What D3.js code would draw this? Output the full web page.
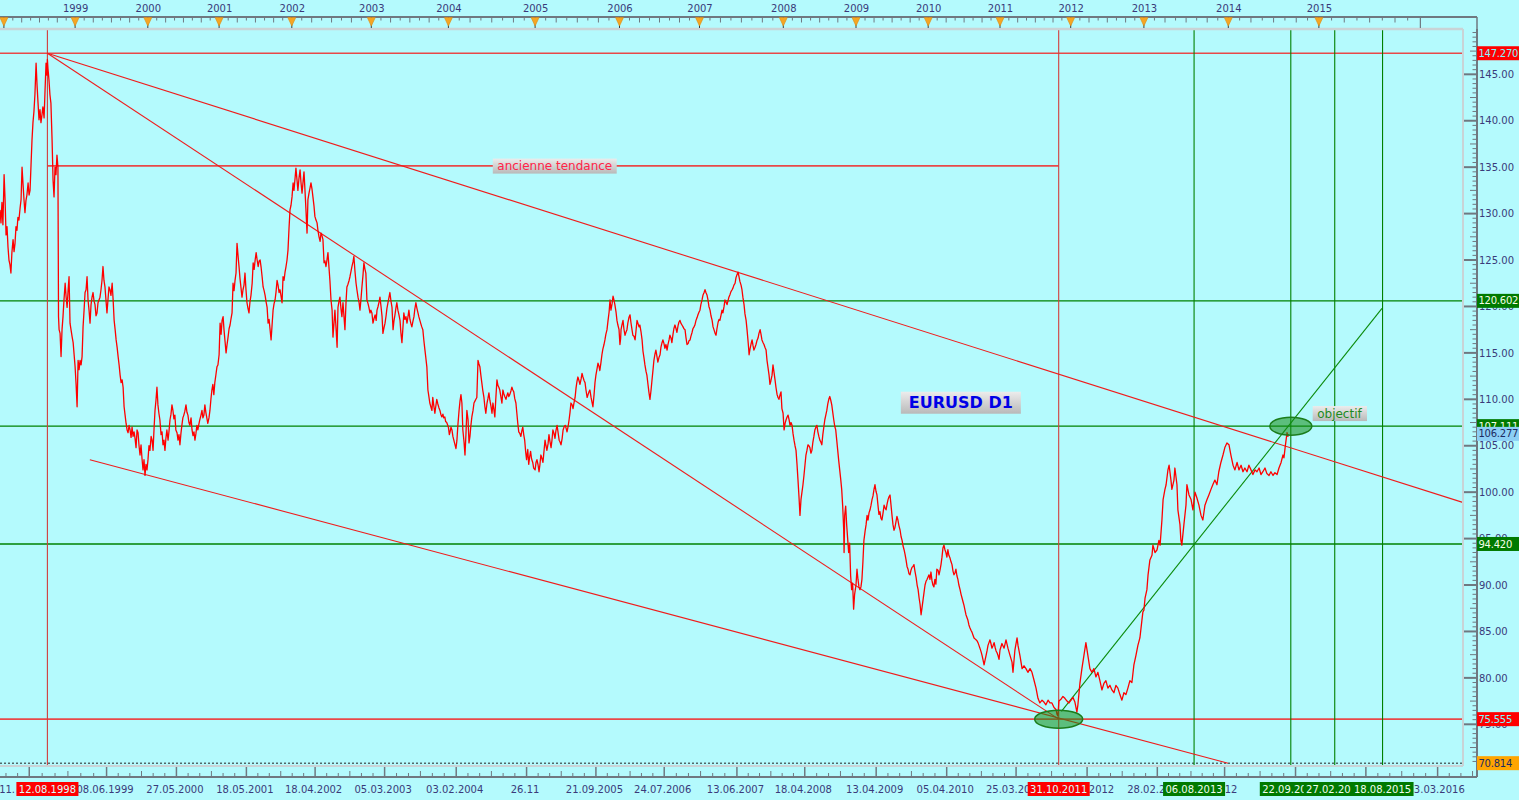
<!DOCTYPE html>
<html><head><meta charset="utf-8">
<script src="https://cdn.jsdelivr.net/npm/d3@7"></script>
<style>html,body{margin:0;padding:0;background:#b4fafd;overflow:hidden}svg{display:block}</style>
</head><body>
<svg id="c" width="1519" height="800"></svg>
<script>
// ---------------- DATA ----------------
// daily-close path, per year: [day of year, close]
const s1998=[[-20,130.4],[-15,129.0],[-10,131.2],[-5,128.8],[1,134.2],[6,131.5],[11,127.7],[16,128.6],[21,126.4],[26,125.0],[31,124.5],[36,123.6],[41,125.8],[47,127.2],[52,125.9],[57,126.8],[62,128.6],[67,128.2],[72,129.6],[77,129.3],[83,130.6],[88,131.5],[93,135.0],[98,133.2],[103,131.5],[108,130.1],[113,131.4],[118,132.0],[124,133.3],[129,132.0],[134,132.5],[139,135.2],[144,137.9],[149,139.8],[154,141.0],[159,142.8],[165,146.2],[170,143.8],[175,141.9],[180,140.1],[185,141.2],[190,139.8],[195,140.6],[200,141.5],[206,140.3],[211,143.3],[216,146.2],[221,144.9],[223,146.6],[226,145.6],[231,144.4],[236,142.8],[241,141.9],[247,137.9],[252,133.6],[257,131.8],[262,135.0],[267,134.2],[272,136.3],[277,135.0],[280,118.9],[283,117.5],[288,117.1],[293,114.6],[298,117.5],[303,118.9],[308,120.7],[314,122.5],[319,121.0],[324,119.9],[329,121.7],[334,123.2],[339,118.2],[344,117.5],[350,116.7],[355,116.1],[360,114.8]];
const s1999=[[0,113.5],[5,111.6],[10,109.2],[15,114.2],[20,113.2],[25,114.2],[30,113.7],[35,114.6],[40,117.8],[45,119.6],[50,121.5],[55,121.8],[60,123.2],[65,120.7],[70,119.6],[75,118.2],[80,120.2],[85,121.0],[90,121.5],[95,120.6],[100,120.2],[105,119.0],[110,119.3],[115,120.4],[120,120.7],[125,121.0],[130,121.8],[135,122.8],[140,124.3],[145,122.8],[150,122.1],[155,120.7],[160,119.3],[165,120.7],[170,122.1],[175,121.8],[180,121.2],[186,122.5],[191,120.7],[196,118.5],[201,117.5],[206,116.4],[211,115.6],[216,114.6],[221,113.7],[226,112.6],[231,111.8],[236,112.1],[241,111.3],[246,109.2],[251,108.3],[256,107.4],[261,106.7],[266,106.4],[271,107.2],[276,106.7],[281,105.9],[286,107.0],[291,106.0],[296,106.5],[301,105.8],[306,104.8],[311,106.7],[316,106.4],[321,105.0],[326,104.0],[331,105.1],[336,103.6],[341,102.4],[346,103.5],[351,101.8],[356,103.0],[361,102.4]];
const s2000=[[1,103.5],[6,105.0],[11,104.5],[17,106.0],[22,105.6],[27,104.5],[32,106.8],[37,108.8],[42,109.9],[47,111.3],[52,109.4],[57,108.5],[62,107.8],[68,106.2],[73,106.5],[78,105.1],[83,105.6],[88,104.5],[93,105.8],[98,106.7],[104,105.6],[109,106.6],[114,107.8],[119,108.4],[124,109.4],[129,108.8],[134,107.9],[139,108.3],[144,106.7],[150,106.4],[155,105.6],[160,106.2],[165,105.1],[170,106.3],[175,107.2],[180,108.0],[185,108.3],[190,108.7],[196,109.4],[201,108.6],[206,108.3],[211,107.5],[216,107.2],[222,108.0],[227,106.7],[232,106.1],[237,106.5],[242,105.6],[247,106.3],[252,107.2],[257,106.7],[262,107.3],[267,107.8],[273,108.3],[278,108.8],[283,108.0],[288,108.3],[293,109.4],[298,108.6],[303,108.0],[308,107.4],[314,108.0],[319,108.8],[324,110.0],[329,111.0],[334,111.6],[339,110.5],[344,111.8],[350,112.7],[355,113.5],[360,113.7]];
const s2001=[[0,114.8],[5,118.2],[10,117.0],[15,118.5],[20,118.9],[25,117.4],[30,116.2],[35,115.0],[40,115.9],[45,116.7],[50,117.6],[55,118.0],[60,118.7],[65,119.3],[70,122.5],[75,121.7],[80,122.8],[85,123.6],[90,126.8],[95,125.5],[100,124.3],[105,123.0],[110,122.0],[115,121.0],[120,121.8],[125,122.3],[130,123.6],[135,121.8],[140,120.4],[145,119.8],[150,119.3],[155,120.5],[160,121.2],[166,122.5],[171,124.7],[176,124.0],[181,125.0],[186,125.8],[191,125.0],[196,124.3],[201,124.9],[206,125.0],[211,124.2],[216,123.2],[221,122.1],[226,121.7],[231,121.2],[236,120.5],[241,119.9],[246,118.2],[251,118.6],[256,117.5],[261,116.4],[266,118.0],[271,119.6],[276,120.3],[281,120.7],[286,121.6],[291,122.8],[296,122.3],[301,121.5],[306,121.8],[311,121.1],[316,120.4],[321,123.2],[326,122.8],[331,123.7],[336,124.3],[341,125.0],[346,126.1],[351,128.4],[356,130.4],[361,130.9]];
const s2002=[[1,131.8],[6,133.3],[10,132.5],[15,133.8],[19,134.9],[24,133.6],[28,132.5],[33,133.8],[38,134.7],[42,133.4],[47,132.2],[52,133.5],[56,134.5],[61,132.3],[65,130.4],[70,127.9],[74,131.5],[79,132.2],[84,132.8],[88,133.3],[93,132.6],[97,131.8],[102,130.8],[106,129.7],[111,129.3],[116,129.0],[120,128.2],[125,127.5],[130,127.0],[134,127.9],[139,127.6],[143,127.2],[148,124.7],[152,124.9],[157,124.3],[162,125.1],[166,125.8],[171,124.1],[175,122.8],[180,120.7],[185,119.6],[189,116.7],[194,118.3],[198,119.6],[203,117.7],[208,115.6],[212,119.9],[217,120.6],[221,121.0],[226,119.7],[230,118.9],[235,120.4],[240,118.8],[244,117.5],[249,120.5],[253,122.1],[258,122.4],[263,122.8],[267,123.2],[272,123.8],[276,124.3],[281,124.8],[285,125.4],[290,123.8],[295,122.5],[299,121.8],[304,121.0],[309,120.4],[313,119.6],[318,120.9],[322,122.1],[327,123.4],[331,124.7],[336,124.0],[340,123.6],[345,120.7],[350,120.3],[354,119.9],[359,119.3],[363,119.6]];
const s2003=[[3,119.3],[8,118.2],[13,118.7],[18,119.1],[23,118.5],[27,119.6],[32,120.0],[37,120.5],[41,121.0],[46,120.0],[51,118.9],[55,117.1],[60,117.7],[65,118.2],[70,119.0],[74,119.8],[79,120.4],[84,121.0],[88,121.5],[93,120.6],[98,119.9],[103,117.5],[107,118.4],[112,119.1],[117,119.9],[121,120.4],[126,119.6],[131,119.1],[136,118.5],[140,117.2],[145,116.1],[150,117.8],[154,119.3],[159,118.6],[164,118.9],[169,118.2],[173,118.8],[178,119.6],[183,118.6],[187,118.2],[192,117.8],[197,118.4],[202,118.9],[206,119.7],[211,120.4],[216,119.8],[221,119.3],[225,118.9],[230,118.5],[235,118.1],[239,117.8],[244,117.5],[249,116.3],[254,115.3],[258,114.5],[263,113.5],[268,111.0],[272,110.4],[277,109.6],[282,109.2],[287,108.8],[291,110.2],[296,109.3],[301,108.5],[305,109.2],[310,110.0],[315,109.5],[320,109.1],[325,108.8],[329,108.4],[334,108.1],[339,108.4],[343,108.0],[348,108.1],[352,107.6],[357,107.5],[362,107.2]];
const s2004=[[0,107.0],[4,106.2],[7,106.5],[11,107.0],[15,106.7],[19,106.0],[24,105.5],[28,105.1],[32,104.7],[36,105.6],[40,107.2],[45,108.8],[49,109.8],[53,110.5],[57,109.6],[61,106.7],[66,105.4],[70,104.0],[74,106.2],[78,108.8],[83,107.8],[87,105.3],[91,106.0],[95,107.2],[99,108.1],[104,108.8],[108,109.6],[112,109.8],[116,110.0],[120,110.2],[125,114.2],[129,113.8],[133,113.5],[137,112.6],[141,111.8],[145,111.0],[150,110.2],[154,109.2],[158,108.5],[163,109.6],[167,110.1],[171,110.7],[175,109.9],[180,109.2],[184,108.5],[188,109.6],[192,108.9],[196,108.1],[200,110.0],[205,112.1],[209,111.5],[213,111.3],[217,111.0],[222,110.2],[226,109.6],[230,111.0],[234,110.6],[238,110.3],[243,110.0],[247,110.4],[251,110.7],[255,110.3],[259,110.5],[264,110.9],[268,111.3],[272,111.0],[276,110.8],[280,110.1],[285,109.6],[289,108.5],[293,107.4],[297,106.5],[302,106.3],[306,106.0],[310,106.6],[314,107.0],[318,106.2],[322,105.6],[326,104.4],[330,103.5],[335,104.6],[339,103.0],[343,103.8],[347,104.4],[351,103.6],[356,103.2],[360,102.6]];
const s2005=[[0,102.4],[4,103.2],[8,103.5],[13,102.9],[17,102.2],[21,103.0],[25,104.0],[30,103.6],[34,103.2],[38,104.3],[43,105.6],[47,105.0],[51,104.5],[56,105.2],[60,106.2],[64,105.5],[69,104.8],[73,105.6],[77,106.7],[82,106.3],[86,105.8],[90,106.6],[95,107.2],[99,106.5],[104,105.6],[108,105.4],[112,105.1],[117,105.8],[121,106.7],[125,107.0],[130,107.2],[134,106.9],[138,106.5],[143,107.1],[147,107.8],[151,108.6],[155,109.6],[160,109.4],[164,109.0],[168,109.6],[173,110.2],[177,111.2],[181,111.9],[185,112.4],[190,112.0],[194,111.6],[199,112.2],[203,112.8],[207,112.4],[212,112.0],[216,111.8],[220,111.0],[225,110.2],[229,110.5],[233,110.8],[237,111.0],[242,110.2],[246,109.7],[250,109.2],[255,110.5],[259,111.8],[263,112.6],[268,113.3],[272,113.9],[276,113.6],[280,113.1],[285,114.0],[289,114.8],[293,115.4],[298,115.9],[302,116.4],[306,117.0],[311,117.5],[315,118.4],[320,119.4],[324,120.7],[328,119.6],[333,120.3],[337,121.1],[341,120.7],[345,120.2],[350,119.4],[354,118.5],[358,118.0],[363,117.5]];
const s2006=[[2,115.9],[5,116.5],[7,117.5],[11,118.0],[16,118.5],[20,117.6],[25,116.9],[29,117.2],[34,117.5],[38,118.2],[43,118.8],[48,119.1],[52,118.3],[57,117.5],[61,116.9],[66,116.8],[71,116.4],[75,117.3],[80,118.5],[84,118.2],[89,117.8],[93,118.0],[98,117.3],[103,116.4],[107,115.2],[112,114.4],[116,113.7],[121,113.0],[125,112.6],[130,111.6],[134,110.8],[139,110.0],[144,111.0],[148,112.0],[153,113.2],[157,114.2],[162,114.9],[166,115.3],[171,114.6],[175,114.0],[180,114.5],[185,114.8],[189,115.6],[194,116.1],[198,116.4],[203,116.0],[207,115.5],[212,115.9],[217,115.3],[221,115.9],[226,116.4],[230,116.9],[235,116.6],[239,116.1],[244,117.0],[248,117.6],[253,118.0],[258,117.6],[262,117.2],[267,117.9],[271,118.3],[276,118.5],[280,118.2],[285,118.0],[290,117.8],[294,117.6],[299,117.5],[303,116.7],[308,115.9],[313,116.0],[317,116.3],[322,116.4],[326,116.8],[331,117.2],[335,117.6],[340,117.8],[344,118.0],[349,118.5],[354,118.8],[358,119.1],[363,119.4]];
const s2007=[[2,119.6],[6,120.2],[11,120.7],[15,121.2],[20,121.5],[24,121.8],[28,121.5],[33,121.2],[37,120.7],[41,120.0],[46,119.6],[50,119.0],[55,118.5],[59,117.8],[63,117.5],[68,117.1],[72,116.9],[76,117.6],[81,118.3],[85,118.6],[89,118.5],[94,119.1],[98,119.6],[102,119.3],[107,120.0],[111,120.7],[115,120.5],[120,120.2],[124,120.6],[128,121.0],[133,121.3],[137,121.6],[142,121.8],[146,122.0],[150,122.3],[155,122.5],[159,123.1],[163,123.4],[168,123.7],[172,123.2],[176,122.7],[181,122.3],[185,121.8],[189,121.0],[194,120.2],[198,119.2],[203,118.5],[207,117.5],[211,116.4],[214,115.5],[216,114.8],[220,115.4],[224,115.9],[229,116.4],[233,115.8],[237,115.3],[242,115.6],[246,115.9],[250,116.3],[255,116.6],[259,117.1],[264,117.5],[268,117.0],[272,116.4],[277,116.1],[281,115.9],[285,115.6],[290,115.3],[294,114.2],[298,113.5],[303,112.6],[307,111.6],[311,112.0],[316,112.6],[320,113.7],[324,113.0],[329,112.1],[333,111.3],[338,110.5],[342,110.2],[346,110.0],[351,110.5],[355,110.8],[359,109.0],[364,108.5]];
const s2008=[[4,106.7],[9,107.4],[14,107.8],[19,108.1],[24,108.3],[29,107.8],[34,107.2],[39,107.5],[44,107.2],[49,106.3],[54,105.6],[59,105.0],[64,104.5],[69,103.0],[74,101.3],[79,99.5],[84,97.5],[89,99.2],[94,100.0],[99,100.8],[104,101.8],[109,102.9],[114,104.0],[119,104.5],[124,105.1],[129,105.0],[134,104.8],[139,104.2],[144,104.5],[149,105.4],[154,106.0],[159,106.7],[164,107.0],[169,107.2],[174,106.5],[179,106.0],[184,105.6],[189,105.4],[194,105.1],[199,106.2],[204,107.0],[209,107.8],[214,108.3],[219,108.8],[224,109.5],[229,110.0],[234,110.3],[239,109.9],[244,109.4],[249,108.6],[254,107.8],[259,107.1],[264,106.7],[269,105.6],[274,104.5],[279,103.4],[284,102.4],[289,101.4],[294,100.3],[299,98.5],[304,96.0],[306,93.5],[309,97.5],[314,98.5],[319,96.5],[324,95.0],[329,93.5],[334,94.5],[339,91.0],[344,89.5],[349,90.2],[354,87.4],[359,89.0]];
const s2009=[[0,90.0],[5,91.7],[10,90.6],[15,89.8],[20,89.5],[25,89.8],[30,90.6],[35,92.5],[40,94.8],[46,95.8],[51,96.5],[56,97.5],[61,97.0],[66,97.8],[71,98.1],[76,98.6],[81,99.2],[86,99.6],[91,100.3],[96,100.8],[101,100.1],[106,99.7],[111,98.6],[116,97.6],[121,97.9],[126,97.2],[131,97.0],[137,97.8],[142,98.6],[147,98.3],[152,98.1],[157,98.7],[162,99.2],[167,99.5],[172,99.7],[177,98.6],[182,97.5],[187,96.5],[192,95.9],[197,96.2],[202,96.8],[207,97.4],[212,97.0],[217,96.4],[223,95.9],[228,95.2],[233,94.8],[238,94.2],[243,93.8],[248,93.3],[253,92.7],[258,92.0],[263,91.7],[268,91.2],[273,91.1],[278,91.6],[283,91.9],[288,92.0],[293,92.2],[298,91.5],[304,90.8],[309,90.0],[314,89.5],[319,88.6],[324,87.9],[329,86.8],[334,87.6],[339,88.4],[344,89.2],[349,90.0],[354,90.4],[359,90.6]];
const s2010=[[4,91.1],[9,90.6],[14,91.4],[19,90.5],[24,90.0],[29,89.8],[34,90.6],[39,90.1],[44,91.7],[50,91.6],[55,91.1],[60,91.6],[65,92.2],[70,93.0],[75,94.0],[80,94.3],[85,93.8],[90,93.5],[95,93.0],[100,93.8],[105,93.2],[111,92.9],[116,92.5],[121,92.2],[126,91.5],[131,91.1],[136,91.3],[141,91.7],[146,91.0],[151,90.6],[156,90.0],[162,89.5],[167,89.0],[172,88.6],[177,88.2],[182,87.8],[187,87.3],[192,86.8],[197,86.5],[202,86.2],[207,85.7],[212,85.4],[218,85.1],[223,84.9],[228,84.6],[233,84.3],[238,84.2],[243,84.1],[248,84.0],[253,83.8],[258,83.5],[263,83.2],[269,82.8],[274,82.4],[279,81.9],[284,81.4],[289,81.9],[294,82.4],[299,82.9],[304,83.5],[309,83.8],[314,84.1],[319,83.7],[324,83.2],[330,83.5],[335,83.8],[340,83.3],[345,82.9],[350,82.7],[355,82.4],[360,82.0]];
const s2011=[[0,83.0],[10,83.7],[21,83.2],[31,84.1],[41,83.2],[52,82.4],[62,81.7],[67,80.6],[77,83.0],[88,84.3],[93,83.5],[103,82.4],[114,81.0],[124,81.3],[134,81.0],[144,80.6],[155,81.0],[165,80.6],[175,79.8],[186,78.9],[196,77.8],[206,77.3],[217,77.6],[227,77.4],[237,77.1],[248,77.6],[258,77.3],[268,77.3],[279,76.8],[289,76.6],[294,76.1],[299,75.9],[304,77.5],[315,77.7],[325,78.0],[335,77.8],[346,77.5],[356,77.3]];
const s2012=[[2,77.6],[11,77.9],[21,77.4],[31,76.3],[36,77.1],[46,79.4],[56,81.0],[66,82.4],[76,83.8],[86,82.4],[96,81.0],[106,80.6],[116,81.0],[126,80.1],[136,80.6],[146,79.7],[156,78.7],[166,79.4],[176,79.7],[186,78.9],[196,79.2],[206,78.7],[216,78.4],[226,79.2],[236,78.9],[246,78.2],[256,77.6],[266,78.4],[276,78.2],[286,78.9],[296,79.7],[306,79.5],[316,81.4],[326,82.4],[336,83.5],[346,84.3],[356,86.2],[361,87.1]];
const s2013=[[0,87.3],[5,88.6],[13,89.5],[18,91.1],[26,92.7],[35,93.2],[39,94.3],[48,93.5],[57,93.8],[65,94.8],[70,94.3],[78,97.0],[83,99.2],[91,100.3],[96,100.8],[104,102.4],[109,102.9],[117,101.3],[121,100.3],[130,101.3],[134,102.6],[143,100.8],[147,98.1],[156,96.5],[160,94.8],[164,94.3],[173,96.5],[182,98.6],[186,100.8],[195,99.7],[204,99.2],[212,98.1],[221,100.0],[229,99.4],[238,98.6],[247,97.5],[255,97.0],[264,98.6],[273,99.2],[281,99.7],[290,100.3],[298,100.8],[307,101.3],[316,100.8],[324,102.2],[333,103.2],[342,104.0],[350,104.8],[359,105.3]];
const s2014=[[3,105.1],[11,104.0],[20,102.9],[28,102.4],[37,103.2],[45,102.4],[54,102.9],[62,102.2],[70,102.6],[79,102.2],[87,102.9],[96,102.4],[104,101.9],[113,102.4],[121,102.2],[130,102.6],[138,101.9],[146,102.2],[155,102.6],[163,102.0],[172,101.8],[180,102.2],[189,101.8],[197,102.1],[206,101.9],[214,102.6],[223,103.2],[231,104.0],[235,103.7],[240,104.8],[244,105.6],[248,106.4],[252,106.0],[253,106.28]];

const trendLines=[
  {from:["1998-08-12",147.27],to:["2016-06-01",98.9],color:"red"},
  {from:["1998-08-12",147.27],to:["2011-10-31",75.555],color:"red"},
  {from:["1999-03-16",103.5],to:["2013-12-31",70.814],color:"red"},
  {from:["2011-11-14",76.4],to:["2015-08-16",119.8],color:"green"}
];
const hLevels=[[147.27,"red"],[120.602,"green"],[107.111,"green"],[94.42,"green"],[75.555,"red"]];
const oldTrend={from:"1998-08-12",to:"2011-10-31",value:135.15};
const vLines=[["1998-08-12","red"],["2011-10-31","red"],["2013-08-06","green"],["2014-09-22","green"],["2015-02-27","green"],["2015-08-18","green"]];
const dashedLevel=70.814;
const priceTags=[[147.270,"red"],[120.602,"green"],[107.111,"green"],[106.277,"blue"],[94.420,"green"],[75.555,"red"],[70.814,"orange"]];
const ellipses=[["2011-10-31",75.555],["2014-09-22",107.111]];
const notes=[
  {date:"2005-03-27",value:135.15,text:"ancienne tendance",kind:"red"},
  {date:"2010-06-16",value:109.66,text:"EURUSD D1",kind:"title"},
  {date:"2015-03-16",value:108.5,text:"objectif",kind:"green"}
];
const years=[1998,1999,2000,2001,2002,2003,2004,2005,2006,2007,2008,2009,2010,2011,2012,2013,2014,2015];
const bottomLabels=[["1998-05-11","11.05.1998"],["1999-06-08","08.06.1999"],["2000-05-27","27.05.2000"],["2001-05-18","18.05.2001"],["2002-04-18","18.04.2002"],["2003-03-05","05.03.2003"],["2004-02-03","03.02.2004"],["2004-11-26","26.11"],["2005-09-21","21.09.2005"],["2006-07-24","24.07.2006"],["2007-06-13","13.06.2007"],["2008-04-18","18.04.2008"],["2009-04-13","13.04.2009"],["2010-04-05","05.04.2010"],["2011-03-25","25.03.2011"],["2012-03-23","23.03.2012"],["2013-02-28","28.02.2013"],["2013-12-16","16.12"],["2014-10-09","09.10.2014"],["2015-06-19","19.06.2015"],["2016-03-03","03.03.2016"]];
const markedDates=[["1998-08-12","12.08.1998","red"],["2011-10-31","31.10.2011","red"],["2013-08-06","06.08.2013","green"],["2014-09-22","22.09.2014","green"],["2015-02-27","27.02.2015","green"],["2015-08-18","18.08.2015","green"]];

// ---------------- LAYOUT ----------------
const P={left:0,right:1463,top:29,bottom:766,axisX:1477,topAxisY:17,botAxisY:777};
// bar-based time axis: first bar of each year sits at these pixels
const xBreaks=[["1998-01-01",3.9],["1999-01-01",75.1],["2000-01-01",147.8],["2001-01-01",219.1],["2002-01-01",291.8],["2003-01-01",371.3],["2004-01-01",448.4],["2005-01-01",535.1],["2006-01-01",619.5],["2007-01-01",699.5],["2008-01-01",783.3],["2009-01-01",856],["2010-01-01",928.2],["2011-01-01",1000],["2012-01-01",1070.7],["2013-01-01",1143.9],["2014-01-01",1228.3],["2014-09-22",1290.8],["2016-06-30",1470.7]];
const C={bg:"#b4fafd",red:"#ff0000",redH:"#e84848",green:"#008000",axis:"#6f7880",text:"#3a3a7a",frame:"#c9d3d6"};
const FONT="'DejaVu Sans', Verdana, sans-serif";

const pd=d3.timeParse("%Y-%m-%d");
const x=d3.scaleTime().domain(xBreaks.map(d=>pd(d[0]))).range(xBreaks.map(d=>d[1]));
const y=d3.scaleLinear().domain([70.51,149.88]).range([P.bottom,P.top]);

const yearData={1998:s1998,1999:s1999,2000:s2000,2001:s2001,2002:s2002,2003:s2003,2004:s2004,2005:s2005,2006:s2006,2007:s2007,2008:s2008,2009:s2009,2010:s2010,2011:s2011,2012:s2012,2013:s2013,2014:s2014};
const series=[];
Object.keys(yearData).sort().forEach(yr=>{yearData[yr].forEach(([d,v])=>series.push({date:new Date(+yr,0,1+d),value:v}));});

const svg=d3.select("#c");
svg.append("rect").attr("width",1519).attr("height",800).attr("fill",C.bg);
const defs=svg.append("defs");
const g1=defs.append("linearGradient").attr("id","btn").attr("x1",0).attr("y1",0).attr("x2",0).attr("y2",1);
g1.append("stop").attr("offset","0%").attr("stop-color","#ececec");
g1.append("stop").attr("offset","100%").attr("stop-color","#b9b9b9");
defs.append("clipPath").attr("id","plot").append("rect").attr("x",P.left).attr("y",P.top).attr("width",P.right-P.left).attr("height",P.bottom-P.top);

const plot=svg.append("g").attr("clip-path","url(#plot)");

plot.selectAll("line.h").data(hLevels).join("line")
  .attr("x1",P.left).attr("x2",P.right).attr("y1",d=>y(d[0])).attr("y2",d=>y(d[0]))
  .attr("stroke",d=>d[1]==="red"?C.redH:C.green).attr("stroke-width",d=>d[1]==="red"?1.6:1.3);
plot.append("line").attr("x1",P.left).attr("x2",P.right).attr("y1",y(dashedLevel)).attr("y2",y(dashedLevel))
  .attr("stroke","#222").attr("stroke-width",1).attr("stroke-dasharray","2,2");
plot.append("line").attr("x1",x(pd(oldTrend.from))).attr("x2",x(pd(oldTrend.to)))
  .attr("y1",y(oldTrend.value)).attr("y2",y(oldTrend.value)).attr("stroke",C.redH).attr("stroke-width",1.8);
plot.selectAll("line.v").data(vLines).join("line")
  .attr("x1",d=>x(pd(d[0]))).attr("x2",d=>x(pd(d[0]))).attr("y1",P.top).attr("y2",P.bottom)
  .attr("stroke",d=>d[1]==="red"?"#d23c3c":C.green).attr("stroke-width",1.1);
plot.selectAll("line.t").data(trendLines).join("line")
  .attr("x1",d=>x(pd(d.from[0]))).attr("y1",d=>y(d.from[1]))
  .attr("x2",d=>x(pd(d.to[0]))).attr("y2",d=>y(d.to[1]))
  .attr("stroke",d=>d.color==="red"?"#f01c1c":"#0a8a0a").attr("stroke-width",1.1);
plot.append("path").datum(series)
  .attr("d",d3.line().x(d=>x(d.date)).y(d=>y(d.value)))
  .attr("fill","none").attr("stroke",C.red).attr("stroke-width",1.3).attr("stroke-linejoin","round");
plot.selectAll("ellipse").data(ellipses).join("ellipse")
  .attr("cx",d=>x(pd(d[0]))).attr("cy",d=>y(d[1])).attr("rx",(d,i)=>i===0?24:21).attr("ry",9)
  .attr("fill","rgba(20,140,20,0.55)").attr("stroke","#1b7d1b").attr("stroke-width",1.5);

svg.append("line").attr("x1",P.left).attr("x2",P.right).attr("y1",P.top).attr("y2",P.top).attr("stroke",C.frame).attr("stroke-width",2.5);
svg.append("line").attr("x1",P.right).attr("x2",P.right).attr("y1",P.top).attr("y2",P.bottom).attr("stroke",C.frame).attr("stroke-width",2);
svg.append("line").attr("x1",P.left).attr("x2",P.right).attr("y1",P.bottom).attr("y2",P.bottom).attr("stroke",C.frame).attr("stroke-width",2);

notes.forEach(n=>{
  const cx=x(pd(n.date)), cy=y(n.value);
  const t=svg.append("text").attr("x",cx).attr("y",cy).attr("text-anchor","middle").attr("dy","0.36em")
    .attr("font-family",FONT).attr("font-size",n.kind==="title"?16:12).attr("font-weight",n.kind==="title"?"bold":"normal")
    .attr("fill",n.kind==="title"?"#0000e6":(n.kind==="red"?"#ff2448":"#1e8a1e")).text(n.text);
  const bb=t.node().getBBox();
  const px=n.kind==="title"?8:4.5, py=n.kind==="title"?1.5:0.5;
  svg.insert("rect",()=>t.node()).attr("x",bb.x-px).attr("y",bb.y-py).attr("width",bb.width+2*px).attr("height",bb.height+2*py).attr("fill","url(#btn)");
});

// top axis
const topG=svg.append("g");
topG.append("line").attr("x1",0).attr("x2",P.axisX).attr("y1",P.topAxisY).attr("y2",P.topAxisY).attr("stroke",C.axis).attr("stroke-width",2);
const yrDates=years.concat([2016]).map(yv=>new Date(yv,0,1));
for(let i=0;i<yrDates.length-1;i++){
  const a=x(yrDates[i]), b=x(yrDates[i+1]);
  for(let k=1;k<8;k++){const xx=a+(b-a)*k/8; topG.append("line").attr("x1",xx).attr("x2",xx).attr("y1",P.topAxisY).attr("y2",P.topAxisY+(k%2?3.5:5.5)).attr("stroke",C.axis).attr("stroke-width",1);}
}
topG.append("line").attr("x1",x(new Date(2016,0,1))).attr("x2",x(new Date(2016,0,1))).attr("y1",P.topAxisY).attr("y2",P.top-1).attr("stroke",C.axis).attr("stroke-width",1.2);
topG.append("line").attr("x1",P.axisX).attr("x2",P.axisX).attr("y1",P.topAxisY).attr("y2",P.top).attr("stroke",C.axis).attr("stroke-width",1.5);
const topAxis=d3.axisTop(x).tickValues(years.filter(v=>v>1998).map(v=>new Date(v,0,1))).tickFormat(d3.timeFormat("%Y")).tickSize(0).tickPadding(0);
const ta=topG.append("g").attr("transform","translate(0,12)").call(topAxis);
ta.select(".domain").remove();
ta.selectAll("text").attr("font-family",FONT).attr("font-size",10).attr("fill",C.text).attr("dy",0);
years.forEach(v=>{
  const xx=x(new Date(v,0,1));
  topG.append("line").attr("x1",xx).attr("x2",xx).attr("y1",P.topAxisY).attr("y2",P.top-1).attr("stroke","#404040").attr("stroke-width",1);
  topG.append("path").attr("d",`M${xx-4},${P.topAxisY+0.5}L${xx+4},${P.topAxisY+0.5}L${xx},${P.topAxisY+9}Z`).attr("fill","#f5a623").attr("stroke","#d88a10").attr("stroke-width",0.6);
});

// right axis
const ra=svg.append("g");
ra.append("line").attr("x1",P.axisX).attr("x2",P.axisX).attr("y1",P.top).attr("y2",P.botAxisY).attr("stroke",C.axis).attr("stroke-width",2);
d3.range(71,150,0.5).forEach(v=>{
  const yy=y(v); const major=Math.abs(v%5)<1e-9, mid=Math.abs(v%2.5)<1e-9;
  ra.append("line").attr("x1",P.axisX-(major?13:(mid?7:4.5))).attr("x2",P.axisX).attr("y1",yy).attr("y2",yy).attr("stroke",C.axis).attr("stroke-width",major?2:1);
});
const rightAxis=d3.axisRight(y).tickValues(d3.range(75,150,5)).tickFormat(d3.format(".2f")).tickSize(0).tickPadding(2);
const rag=ra.append("g").attr("transform",`translate(${P.axisX},0)`).call(rightAxis);
rag.select(".domain").remove();
rag.selectAll("text").attr("font-family",FONT).attr("font-size",10).attr("fill",C.text);

// bottom axis
const ba=svg.append("g");
ba.append("line").attr("x1",0).attr("x2",P.axisX).attr("y1",P.botAxisY).attr("y2",P.botAxisY).attr("stroke",C.axis).attr("stroke-width",2);
const bDates=bottomLabels.map(d=>pd(d[0]));
const bx=bDates.map(d=>x(d));
const stepPx=bx[2]-bx[1];
const allMaj=[bx[0]-stepPx].concat(bx).concat([bx[bx.length-1]+stepPx]);
for(let i=0;i<allMaj.length-1;i++){
  const a=allMaj[i], b=allMaj[i+1];
  for(let k=1;k<6;k++){const xx=a+(b-a)*k/6; if(xx<0||xx>P.axisX) continue; ba.append("line").attr("x1",xx).attr("x2",xx).attr("y1",P.botAxisY-(k===3?6:4)).attr("y2",P.botAxisY).attr("stroke",C.axis).attr("stroke-width",1);}
}
const LBL_DX=-2;
const bottomAxis=d3.axisBottom(x).tickValues(bDates).tickFormat((d,i)=>bottomLabels[i][1]).tickSize(0).tickPadding(0);
const bag=ba.append("g").attr("transform",`translate(${LBL_DX},${P.botAxisY+13})`).call(bottomAxis);
bag.select(".domain").remove();
bag.selectAll("text").attr("font-family",FONT).attr("font-size",10).attr("fill",C.text).attr("dy","0.32em");
bx.forEach(xx=>ba.append("line").attr("x1",xx).attr("x2",xx).attr("y1",P.bottom+1).attr("y2",P.botAxisY).attr("stroke",C.axis).attr("stroke-width",1.5));
ba.append("line").attr("x1",P.axisX).attr("x2",P.axisX).attr("y1",P.bottom+1).attr("y2",P.botAxisY).attr("stroke",C.axis).attr("stroke-width",1.5);

// highlighted date boxes hide the parts of the normal labels beneath them: keep only the visible characters
const BOXW=62;
const boxes=markedDates.map(([ds])=>{const c=x(pd(ds)); return [c-BOXW/2,c+BOXW/2];});
function charMids(node,str,start){const pos=[0];for(let k=1;k<=str.length;k++)pos.push(node.getSubStringLength(0,k));return d3.range(str.length).map(k=>start+(pos[k]+pos[k+1])/2);}
bag.selectAll(".tick").each(function(d,i){
  const t=d3.select(this).select("text"), node=t.node(), str=bottomLabels[i][1];
  const w=node.getComputedTextLength(), off=x(d)+LBL_DX, a0=off-w/2, a1=off+w/2;
  const ov=boxes.filter(b=>b[1]>a0 && b[0]<a1);
  if(!ov.length) return;
  const bl=d3.min(ov,b=>b[0]), br=d3.max(ov,b=>b[1]);
  const mids=charMids(node,str,a0);
  let nl=0; while(nl<str.length && mids[nl]<bl) nl++;
  let nr=str.length; while(nr>0 && mids[nr-1]>br) nr--;
  const left=str.slice(0,nl), right=str.slice(nr);
  if(!left.length && !right.length){t.remove();return;}
  if(left.length>=right.length) t.attr("text-anchor","start").attr("x",-w/2).text(left);
  else t.attr("text-anchor","end").attr("x",w/2).text(right);
});
markedDates.forEach(([ds,txt,col],j)=>{
  const c=x(pd(ds));
  ba.append("rect").attr("x",c-BOXW/2).attr("y",782).attr("width",BOXW).attr("height",14).attr("fill",col==="red"?"#ff0000":"#007a00");
  const t=ba.append("text").attr("x",c).attr("y",789).attr("dy","0.35em").attr("text-anchor","middle").attr("font-family",FONT).attr("font-size",10)
    .attr("fill",col==="red"?"#d8ffff":"#f0fff0").text(txt);
  const later=boxes.slice(j+1).filter(b=>b[0]<c+BOXW/2 && b[1]>c-BOXW/2);
  if(later.length){
    const node=t.node(), w=node.getComputedTextLength(), lim=d3.min(later,b=>b[0]);
    const mids=charMids(node,txt,c-w/2);
    let n=0; while(n<txt.length && mids[n]<lim) n++;
    t.attr("text-anchor","start").attr("x",c-w/2).text(txt.slice(0,n));
  }
});

// price tags
const tagStyle={red:["#ff0000","#7ff6ff"],green:["#007a00","#f4ffe8"],blue:["#8ccff5","#1c2a60"],orange:["#ffa500","#1c2a60"]};
priceTags.forEach(([v,k])=>{
  const yy=y(v);
  svg.append("rect").attr("x",P.axisX).attr("y",yy-7).attr("width",46).attr("height",14).attr("fill",tagStyle[k][0]);
  svg.append("text").attr("x",P.axisX+1.5).attr("y",yy).attr("dy","0.36em").attr("font-family",FONT).attr("font-size",10)
    .attr("letter-spacing",-0.25).attr("fill",tagStyle[k][1]).text(d3.format(".3f")(v));
});
</script>
</body></html>
